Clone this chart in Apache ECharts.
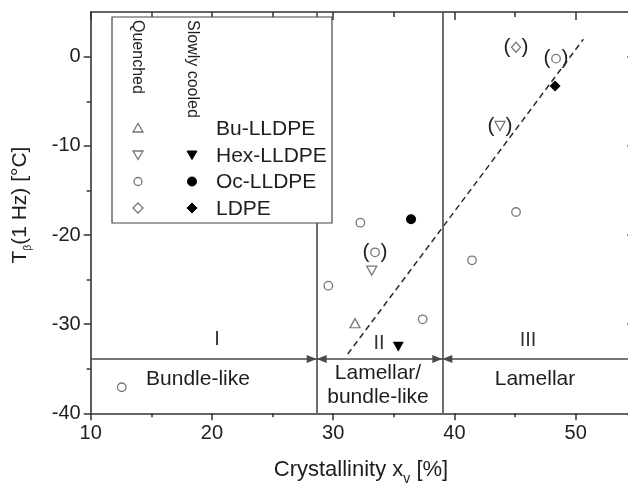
<!DOCTYPE html>
<html><head><meta charset="utf-8">
<script src="https://cdn.jsdelivr.net/npm/echarts@6.0.0/dist/echarts.min.js"></script>
<style>html,body{margin:0;padding:0;background:#fff;}#chart{width:628px;height:486px;}</style>
</head><body><div id="chart"></div>
<script>
// ---------------- data ----------------
const xTicks = [10, 20, 30, 40, 50];
const xMinorTicks = [15, 25, 35, 45];
const yTicks = [-40, -30, -20, -10, 0];
const yMinorTicks = [-35, -25, -15, -5];
const xRange = [10, 55];
const yRange = [-40, 5];

const buQuenched = [[31.8, -29.9]];
const hexQuenched = [[33.18, -24.0]];
const hexQuenchedBracketed = [[43.76, -7.77]];
const hexSlow = [[35.37, -32.53]];
const ocQuenched = [[12.56, -37.08], [32.24, -18.62], [29.6, -25.69], [37.38, -29.46], [45.08, -17.42], [41.45, -22.84]];
const ocQuenchedBracketed = [[33.45, -21.94], [48.38, -0.22]];
const ocSlow = [[36.42, -18.24]];
const ldpeQuenchedBracketed = [[45.08, 1.05]];
const ldpeSlow = [[48.3, -3.29]];
const fitLine = [[31.2, -33.35], [50.63, 1.95]];
const regionBounds = [28.64, 39.0];
const regionLineY = -33.9;
const regionNumerals = ['I', 'II', 'III'];
const regionNames = ['Bundle-like', 'Lamellar/\nbundle-like', 'Lamellar'];
const legendNames = ['Bu-LLDPE', 'Hex-LLDPE', 'Oc-LLDPE', 'LDPE'];
const legendColumns = ['Quenched', 'Slowly cooled'];
const xTitle = ['Crystallinity x', 'v', ' [%]'];
const yTitle = ['T', 'β', '(1 Hz) [°C]'];

// ---------------- styles ----------------
const FONT = '"Liberation Sans", Arial, Helvetica, sans-serif';
const AX = '#333';
const TXT = '#1e1e1e';
const OPEN = { color: '#fff', borderColor: '#777', borderWidth: 1.3, opacity: 1 };
const FILLED = { color: '#000', opacity: 1 };

function xAxisDef(position, values, len, inside, labels, line) {
  return {
    type: 'value', position, min: xRange[0], max: xRange[1], interval: 10,
    axisLine: { show: line, onZero: false, lineStyle: { color: AX, width: 1.6 } },
    axisTick: { show: true, inside, length: len, customValues: values, lineStyle: { color: AX, width: 1.5 } },
    axisLabel: { show: labels, customValues: values, fontSize: 20, color: TXT, margin: 10, fontFamily: FONT },
    splitLine: { show: false }, minorTick: { show: false }, silent: true
  };
}
function yAxisDef(position, values, len, inside, labels, line) {
  return {
    type: 'value', position, min: yRange[0], max: yRange[1], interval: 10,
    axisLine: { show: line, onZero: false, lineStyle: { color: AX, width: 1.6 } },
    axisTick: { show: true, inside, length: len, customValues: values, lineStyle: { color: AX, width: 1.5 } },
    axisLabel: { show: labels, customValues: values, fontSize: 20, color: TXT, margin: 10, fontFamily: FONT },
    splitLine: { show: false }, minorTick: { show: false }, silent: true
  };
}

function scatter(name, data, symbol, size, rotate, style, bracket) {
  return {
    type: 'scatter', name, data, symbol, symbolSize: size, symbolRotate: rotate,
    itemStyle: style, silent: true, z: 5,
    label: bracket ? {
      show: true, position: 'inside', formatter: '{p|(}{g|}{p|)}',
      rich: { p: { fontSize: 21, color: '#222', fontFamily: FONT }, g: { width: 11 } }
    } : { show: false }
  };
}

const arrow = { symbol: 'triangle', symbolSize: [8, 10], symbolOffset: [0, '50%'] };

const series = [
  {
    type: 'line', data: fitLine, showSymbol: false, silent: true, z: 3,
    lineStyle: { color: '#2a2a2a', width: 1.5, type: [6, 4] }
  },
  {
    type: 'scatter', data: [], silent: true,
    markLine: {
      silent: true, animation: false, symbol: ['none', 'none'],
      label: { show: false },
      lineStyle: { color: '#4a4a4a', width: 1.6, type: 'solid' },
      emphasis: { disabled: true },
      data: [
        [{ coord: [regionBounds[0], yRange[0]] }, { coord: [regionBounds[0], yRange[1]] }],
        [{ coord: [regionBounds[1], yRange[0]] }, { coord: [regionBounds[1], yRange[1]] }],
        [{ coord: [xRange[0], regionLineY] }, Object.assign({ coord: [regionBounds[0], regionLineY] }, arrow)],
        [Object.assign({ coord: [regionBounds[0], regionLineY] }, arrow), Object.assign({ coord: [regionBounds[1], regionLineY] }, arrow)],
        [Object.assign({ coord: [regionBounds[1], regionLineY] }, arrow), { coord: [xRange[1], regionLineY] }]
      ]
    }
  },
  scatter('Bu-LLDPE quenched', buQuenched, 'triangle', [10, 9], 0, OPEN, false),
  scatter('Hex-LLDPE quenched', hexQuenched, 'triangle', [10, 9], 180, OPEN, false),
  scatter('Hex-LLDPE quenched (bracketed)', hexQuenchedBracketed, 'triangle', [10, 9], 180, OPEN, true),
  scatter('Hex-LLDPE slowly cooled', hexSlow, 'triangle', [11, 10], 180, FILLED, false),
  scatter('Oc-LLDPE quenched', ocQuenched, 'circle', 8.5, 0, OPEN, false),
  scatter('Oc-LLDPE quenched (bracketed)', ocQuenchedBracketed, 'circle', 8.5, 0, OPEN, true),
  scatter('Oc-LLDPE slowly cooled', ocSlow, 'circle', 10, 0, FILLED, false),
  scatter('LDPE quenched (bracketed)', ldpeQuenchedBracketed, 'diamond', [9, 10], 0, OPEN, true),
  scatter('LDPE slowly cooled', ldpeSlow, 'diamond', [11, 11], 0, FILLED, false)
];

// ---------------- legend & annotations (graphic) ----------------
function legendSymbol(shape, filled, cx, cy) {
  const style = filled ? { fill: '#000', stroke: '#000', lineWidth: 1 } : { fill: '#fff', stroke: '#777', lineWidth: 1.3 };
  if (shape === 'circle') return { type: 'circle', z: 101, shape: { cx, cy, r: filled ? 4.5 : 4 }, style };
  if (shape === 'up') return { type: 'polygon', z: 101, shape: { points: [[cx, cy - 4.5], [cx + 5, cy + 4], [cx - 5, cy + 4]] }, style };
  if (shape === 'down') return { type: 'polygon', z: 101, shape: { points: [[cx, cy + 4.5], [cx + 5, cy - 4], [cx - 5, cy - 4]] }, style };
  if (shape === 'diamond') return { type: 'polygon', z: 101, shape: { points: [[cx, cy - 5], [cx + 5, cy], [cx, cy + 5], [cx - 5, cy]] }, style };
  return null;
}
const legendQuenchedShapes = ['up', 'down', 'circle', 'diamond'];
const legendSlowShapes = [null, 'down', 'circle', 'diamond'];
const rowsY = [128, 155, 181.5, 208];
const graphic = [
  { type: 'rect', z: 100, shape: { x: 112, y: 17, width: 220, height: 206 }, style: { fill: '#fff', stroke: '#444', lineWidth: 1.2 } },
  { type: 'text', z: 101, x: 137, y: 20, rotation: -Math.PI / 2, style: { text: legendColumns[0], font: '16px ' + FONT, fill: TXT, textAlign: 'left', textVerticalAlign: 'middle' } },
  { type: 'text', z: 101, x: 192, y: 20, rotation: -Math.PI / 2, style: { text: legendColumns[1], font: '16px ' + FONT, fill: TXT, textAlign: 'left', textVerticalAlign: 'middle' } }
];
legendNames.forEach((n, i) => {
  graphic.push({ type: 'text', z: 101, x: 216, y: rowsY[i] + 1, style: { text: n, font: '21px ' + FONT, fill: TXT, textAlign: 'left', textVerticalAlign: 'middle' } });
  const a = legendSymbol(legendQuenchedShapes[i], false, 138, rowsY[i]);
  if (a) graphic.push(a);
  if (legendSlowShapes[i]) graphic.push(legendSymbol(legendSlowShapes[i], true, 192, rowsY[i]));
});
const numeralPos = [[217, 339], [379, 343], [528, 340]];
regionNumerals.forEach((t, i) => graphic.push({ type: 'text', z: 50, x: numeralPos[i][0], y: numeralPos[i][1], style: { text: t, font: '20px ' + FONT, fill: '#333', textAlign: 'center', textVerticalAlign: 'middle' } }));
const namePos = [[198, 379], [378, 385], [535, 379]];
regionNames.forEach((t, i) => graphic.push({ type: 'text', z: 50, x: namePos[i][0], y: namePos[i][1], style: { text: t, font: '21px ' + FONT, lineHeight: 24, fill: TXT, textAlign: 'center', textVerticalAlign: 'middle' } }));
graphic.push({
  type: 'text', z: 50, x: 361, y: 459,
  style: {
    text: '{a|' + xTitle[0] + '}{s|' + xTitle[1] + '}{a|' + xTitle[2] + '}',
    textAlign: 'center', textVerticalAlign: 'top', fill: TXT,
    rich: {
      a: { fontSize: 22, fontFamily: FONT, verticalAlign: 'top', fill: TXT },
      s: { fontSize: 14, fontFamily: FONT, verticalAlign: 'top', padding: [13, 0, 0, 0], fill: TXT }
    }
  }
});
graphic.push({
  type: 'text', z: 50, x: 10, y: 205, rotation: Math.PI / 2,
  style: {
    text: '{a|' + yTitle[0] + '}{s|' + yTitle[1] + '}{a|' + yTitle[2] + '}',
    textAlign: 'center', textVerticalAlign: 'top', fill: TXT,
    rich: {
      a: { fontSize: 21, fontFamily: FONT, verticalAlign: 'top', fill: TXT },
      s: { fontSize: 10, fontFamily: FONT, verticalAlign: 'top', padding: [13, 0, 0, 0], fill: TXT }
    }
  }
});

const chart = echarts.init(document.getElementById('chart'), null, { renderer: 'canvas' });
chart.setOption({
  animation: false,
  backgroundColor: '#fff',
  grid: { left: 90.7, right: -8.3, top: 12.1, bottom: 72.7, containLabel: false, outerBoundsMode: 'none' },
  xAxis: [
    xAxisDef('bottom', xTicks, 7, false, true, true),
    xAxisDef('bottom', xMinorTicks, 4, false, false, false),
    xAxisDef('top', xTicks, 8, true, false, true),
    xAxisDef('top', xMinorTicks, 5, true, false, false)
  ],
  yAxis: [
    yAxisDef('left', yTicks, 7, false, true, true),
    yAxisDef('left', yMinorTicks, 4, false, false, false),
    yAxisDef('right', yTicks, 9, true, false, true),
    yAxisDef('right', yMinorTicks, 5, true, false, false)
  ],
  series,
  graphic
});
</script></body></html>
